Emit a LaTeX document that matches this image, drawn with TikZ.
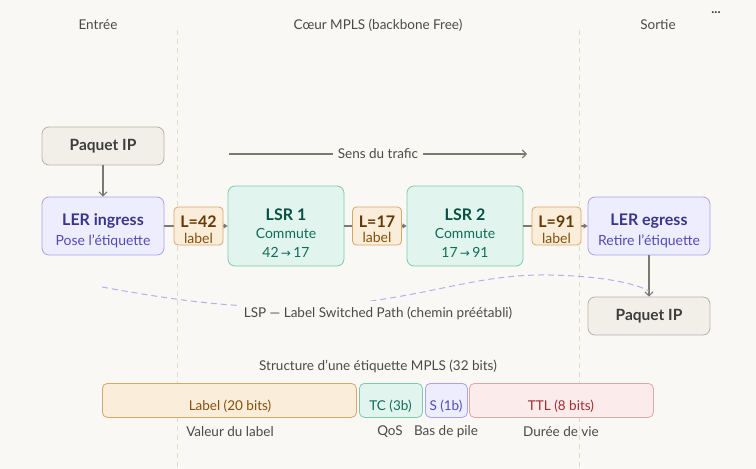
\documentclass[tikz,border=0pt]{standalone}
\usepackage{fontspec}
\setmainfont{Lato}
\newfontfamily\symfont{DejaVu Sans}
\usetikzlibrary{arrows.meta}
\definecolor{bgc}{HTML}{F9F8F5}
\definecolor{divc}{HTML}{DEDBD3}
\definecolor{headc}{HTML}{4A4A46}
\definecolor{pqfill}{HTML}{F1EFE8}
\definecolor{pqdraw}{HTML}{B4B2A9}
\definecolor{pqtext}{HTML}{3D3D3A}
\definecolor{lerfill}{HTML}{EEEDFE}
\definecolor{lerdraw}{HTML}{A9A2EE}
\definecolor{lertitle}{HTML}{3C3489}
\definecolor{lersub}{HTML}{534AB7}
\definecolor{lsrfill}{HTML}{E1F5EE}
\definecolor{lsrdraw}{HTML}{7CCBB0}
\definecolor{lsrtitle}{HTML}{085041}
\definecolor{lsrsub}{HTML}{0F6E56}
\definecolor{labfill}{HTML}{FAEEDA}
\definecolor{labdraw}{HTML}{D9A766}
\definecolor{labtitle}{HTML}{633806}
\definecolor{labsub}{HTML}{854F0B}
\definecolor{ttlfill}{HTML}{FCEBEB}
\definecolor{ttldraw}{HTML}{E4A5A5}
\definecolor{ttltext}{HTML}{A32D2D}
\definecolor{arrc}{HTML}{7A7973}
\definecolor{lspc}{HTML}{B5AEF0}
\tikzset{
  headtxt/.style={text=headc, font=\fontsize{13.5}{15}\selectfont, inner sep=0pt},
  box/.style={rounded corners=7pt, line width=0.8pt, align=center, inner sep=0pt},
  pqbox/.style={box, fill=pqfill, draw=pqdraw, text=pqtext, minimum width=122pt, minimum height=38pt, font=\bfseries\fontsize{15.5}{17}\selectfont},
  lerbox/.style={box, fill=lerfill, draw=lerdraw, minimum width=122pt, minimum height=58pt},
  lsrbox/.style={box, fill=lsrfill, draw=lsrdraw, minimum width=116pt, minimum height=80pt},
  labbox/.style={box, rounded corners=4pt, fill=labfill, draw=labdraw, minimum width=49pt, minimum height=38pt},
  lertxt/.style={align=center, inner sep=0pt, font=\fontsize{14}{20}\selectfont},
  lsrtxt/.style={align=center, inner sep=0pt, font=\fontsize{14}{18.5}\selectfont},
  labtxt/.style={align=center, inner sep=0pt, font=\fontsize{14}{15.5}\selectfont},
  fieldbox/.style={rounded corners=5pt, line width=0.8pt, minimum height=34pt, inner sep=0pt, anchor=north west},
  fieldtxt/.style={font=\fontsize{13.5}{15}\selectfont, inner sep=0pt},
  subtxt/.style={text=headc, font=\fontsize{13.5}{15}\selectfont, inner sep=0pt},
  flow/.style={draw=arrc, line width=1.1pt, -{Straight Barb[length=4pt,width=8pt,line width=1.1pt]}},
  link/.style={draw=arrc, line width=1.1pt, -{Triangle[length=4pt,width=5pt]}},
}
\newcommand{\ttl}[2]{{\color{#1}\bfseries\fontsize{16}{18}\selectfont #2}}
\newcommand{\sbt}[2]{{\color{#1}\fontsize{14}{16}\selectfont #2}}
\begin{document}
\begin{tikzpicture}[x=1pt,y=-1pt]
\fill[bgc] (0,0) rectangle (756,469);
\useasboundingbox (0,0) rectangle (756,469);
% dividers
\draw[divc, line width=0.6pt, dash pattern=on 5pt off 4pt] (177,30) -- (177,469);
\draw[divc, line width=0.6pt, dash pattern=on 5pt off 4pt] (579,30) -- (579,469);
% headers
\node[headtxt] (hin) at (98,25) {Entrée};
\node[headtxt] (hcore) at (378,25) {Cœur MPLS (backbone Free)};
\node[headtxt] (hout) at (658,25) {Sortie};
\node[text=pqtext, font=\bfseries\fontsize{13}{13}\selectfont, inner sep=0pt] (dots) at (716,13) {...};
% traffic direction
\coordinate (tstart) at (229,154);
\coordinate (tend) at (527,154);
\draw[flow] (tstart) -- (tend);
\node[headtxt, fill=bgc, inner xsep=5pt, inner ysep=3pt] (sens) at (378,154) {Sens du trafic};
% nodes
\node[pqbox] (pin) at (103,146) {Paquet IP};
\node[lerbox] (ler1) at (103,226) {};
\node[lsrbox] (lsr1) at (286,226) {};
\node[lsrbox] (lsr2) at (465,226) {};
\node[lerbox] (ler2) at (649,226) {};
\node[pqbox] (pout) at (649,316) {Paquet IP};
\node[lertxt] (ler1t) at ([yshift=-5pt]ler1.center) {\ttl{lertitle}{LER ingress}\\\sbt{lersub}{Pose l’étiquette}};
\node[lertxt] (ler2t) at ([yshift=-5pt]ler2.center) {\ttl{lertitle}{LER egress}\\\sbt{lersub}{Retire l’étiquette}};
\node[lsrtxt] (lsr1t) at ([yshift=-7pt]lsr1.center) {\ttl{lsrtitle}{LSR 1}\\\sbt{lsrsub}{Commute}\\\sbt{lsrsub}{42\,{\symfont\fontsize{12}{14}\selectfont→}\,17}};
\node[lsrtxt] (lsr2t) at ([yshift=-7pt]lsr2.center) {\ttl{lsrtitle}{LSR 2}\\\sbt{lsrsub}{Commute}\\\sbt{lsrsub}{17\,{\symfont\fontsize{12}{14}\selectfont→}\,91}};
% links (drawn beneath labels)
\draw[link] (ler1.east) -- (lsr1.west);
\draw[link] (lsr1.east) -- (lsr2.west);
\draw[link] (lsr2.east) -- (ler2.west);
\node[labbox] (l42) at (198.5,226) {};
\node[labbox] (l17) at (377,226) {};
\node[labbox] (l91) at (556.5,226) {};
\node[labtxt] (l42t) at ([yshift=-3.5pt]l42.center) {\ttl{labtitle}{L=42}\\\sbt{labsub}{label}};
\node[labtxt] (l17t) at ([yshift=-3.5pt]l17.center) {\ttl{labtitle}{L=17}\\\sbt{labsub}{label}};
\node[labtxt] (l91t) at ([yshift=-3.5pt]l91.center) {\ttl{labtitle}{L=91}\\\sbt{labsub}{label}};
\draw[flow] (pin.south) -- (ler1.north);
\draw[flow] (ler2.south) -- (pout.north);
% LSP curve
\coordinate (lspa) at (102,287);
\coordinate (lspb) at (649,291);
\draw[lspc, line width=1pt, dash pattern=on 6pt off 4pt] (lspa) .. controls (200,305) and (270,312) .. (355,303) .. controls (440,293) and (480,274) .. (550,275) .. controls (600,276) and (635,283) .. (lspb);
\node[headtxt, fill=bgc, inner xsep=5pt, inner ysep=6pt] (lsp) at (378,313) {LSP — Label Switched Path (chemin préétabli)};
% MPLS label structure
\node[headtxt] (struct) at (378,366) {Structure d’une étiquette MPLS (32 bits)};
\node[fieldbox, fill=labfill, draw=labdraw, minimum width=254pt] (flabel) at (102,383) {};
\node[fieldbox, fill=lsrfill, draw=lsrdraw, minimum width=63pt] (ftc) at (359,383) {};
\node[fieldbox, fill=lerfill, draw=lerdraw, minimum width=42pt] (fs) at (425,383) {};
\node[fieldbox, fill=ttlfill, draw=ttldraw, minimum width=184pt] (fttl) at (469,383) {};
\node[fieldtxt, text=labsub] (tlabel) at (230,406) {Label (20 bits)};
\node[fieldtxt, text=lsrsub] (ttc) at (390.5,406) {TC (3b)};
\node[fieldtxt, text=lersub] (ts) at (446,406) {S (1b)};
\node[fieldtxt, text=ttltext] (tttl) at (561,406) {TTL (8 bits)};
\node[subtxt] (dlabel) at (230,432) {Valeur du label};
\node[subtxt] (dtc) at (390,432) {QoS};
\node[subtxt] (ds) at (446,432) {Bas de pile};
\node[subtxt] (dttl) at (561,432) {Durée de vie};
\end{tikzpicture}
\end{document}
